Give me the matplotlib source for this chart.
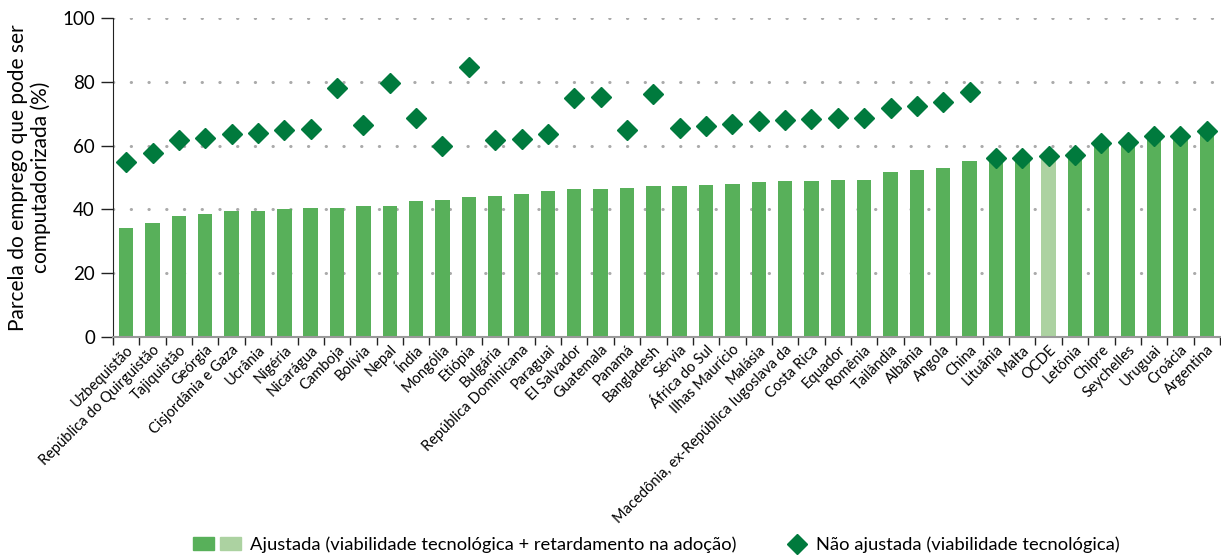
import numpy as np
import matplotlib.pyplot as plt
from matplotlib.patches import Patch
from matplotlib.lines import Line2D
from matplotlib.legend_handler import HandlerTuple

plt.rcParams['font.family'] = ['Lato', 'DejaVu Sans']

# data
# -------------------------------------------------------------------------------------
countries = [
    "Uzbequistão", "República do Quirguistão", "Tajiquistão", "Geórgia",
    "Cisjordânia e Gaza", "Ucrânia", "Nigéria", "Nicarágua", "Camboja", "Bolívia",
    "Nepal", "Índia", "Mongólia", "Etiópia", "Bulgária", "República Dominicana",
    "Paraguai", "El Salvador", "Guatemala", "Panamá", "Bangladesh", "Sérvia",
    "África do Sul", "Ilhas Maurício", "Malásia",
    "Macedônia, ex-República Iugoslava da", "Costa Rica", "Equador", "Romênia",
    "Tailândia", "Albânia", "Angola", "China", "Lituânia", "Malta", "OCDE",
    "Letônia", "Chipre", "Seychelles", "Uruguai", "Croácia", "Argentina",
]

adjusted = [
    34.1, 35.7, 37.9, 38.5, 39.5, 39.5, 40.1, 40.4, 40.4, 41.0,
    41.0, 42.6, 42.9, 43.9, 44.2, 44.8, 45.8, 46.4, 46.4, 46.7,
    47.3, 47.3, 47.6, 48.0, 48.6, 48.9, 48.9, 49.2, 49.2, 51.7,
    52.4, 53.0, 55.2, 56.1, 56.0, 56.8, 57.0, 60.7, 61.2, 62.9,
    63.0, 64.6,
]

unadjusted = [
    55.0, 57.7, 61.6, 62.5, 63.7, 63.9, 64.8, 65.2, 78.2, 66.5,
    79.7, 68.8, 59.8, 84.7, 61.6, 62.0, 63.7, 74.8, 75.1, 64.9,
    76.3, 65.5, 66.3, 66.8, 67.7, 68.0, 68.3, 68.5, 68.5, 71.9,
    72.5, 73.6, 76.9, 56.1, 56.0, 56.8, 57.0, 60.7, 61.2, 62.9,
    63.0, 64.6,
]

highlight = "OCDE"

# colours
bar_green = "#58b05a"
bar_light = "#acd2a1"
diamond_green = "#007a3d"

# plot
# -------------------------------------------------------------------------------------
fig = plt.figure(figsize=(12.21, 5.56), dpi=100)
ax = fig.add_axes([113 / 1221, 219 / 556, 1107 / 1221, 319 / 556])

x = np.arange(len(countries))
colors = [bar_light if c == highlight else bar_green for c in countries]

ax.bar(x, adjusted, width=0.55, color=colors, zorder=2)
ax.plot(x, unadjusted, linestyle="none", marker="D", markersize=9.7,
        color=diamond_green, zorder=3)

ax.set_xlim(-0.5, len(countries) - 0.5)
ax.set_ylim(0, 100)
ax.set_yticks(np.arange(0, 101, 20))
ax.tick_params(axis="y", length=9, width=1, labelsize=13.5, pad=4, color="#222222")

# x ticks at category boundaries, labels at bar centres
ax.set_xticks(np.arange(-0.5, len(countries), 1.0))
ax.set_xticklabels([])
ax.set_xticks(x, minor=True)
ax.set_xticklabels(countries, minor=True, rotation=45, ha="right",
                   va="top", rotation_mode="anchor", fontsize=10.5)
ax.tick_params(axis="x", which="major", length=6, width=1, color="#222222")
ax.tick_params(axis="x", which="minor", length=0, pad=4)

for y in range(20, 101, 20):
    ax.axhline(y, color="#aaaaaa", linewidth=2.2, linestyle=(0, (0.1, 5.7)),
               dash_capstyle="round", zorder=1)

for side in ["top", "right"]:
    ax.spines[side].set_visible(False)
ax.spines["left"].set_color("#222222")
ax.spines["bottom"].set_color("#999999")
ax.spines["bottom"].set_linewidth(1.5)

ax.set_ylabel("Parcela do emprego que pode ser\ncomputadorizada (%)",
              fontsize=15, labelpad=8, linespacing=1.15)

# legend
# -------------------------------------------------------------------------------------
leg1 = fig.legend([(Patch(color=bar_green), Patch(color=bar_light))],
                  ["Ajustada (viabilidade tecnológica + retardamento na adoção)"],
                  loc="center left", bbox_to_anchor=(193 / 1221, 0.02),
                  frameon=False, fontsize=13.2, borderpad=0, borderaxespad=0,
                  handlelength=2.62, handletextpad=0.5,
                  handler_map={tuple: HandlerTuple(ndivide=None, pad=0.33)})
fig.legend([Line2D([], [], linestyle="none", marker="D", markersize=10.5,
                   color=diamond_green)],
           ["Não ajustada (viabilidade tecnológica)"],
           loc="center left", bbox_to_anchor=(787 / 1221, 0.02),
           frameon=False, fontsize=13.2, borderpad=0, borderaxespad=0,
           handlelength=1.1, handletextpad=0.5)

fig.savefig("out.png", dpi=100)
